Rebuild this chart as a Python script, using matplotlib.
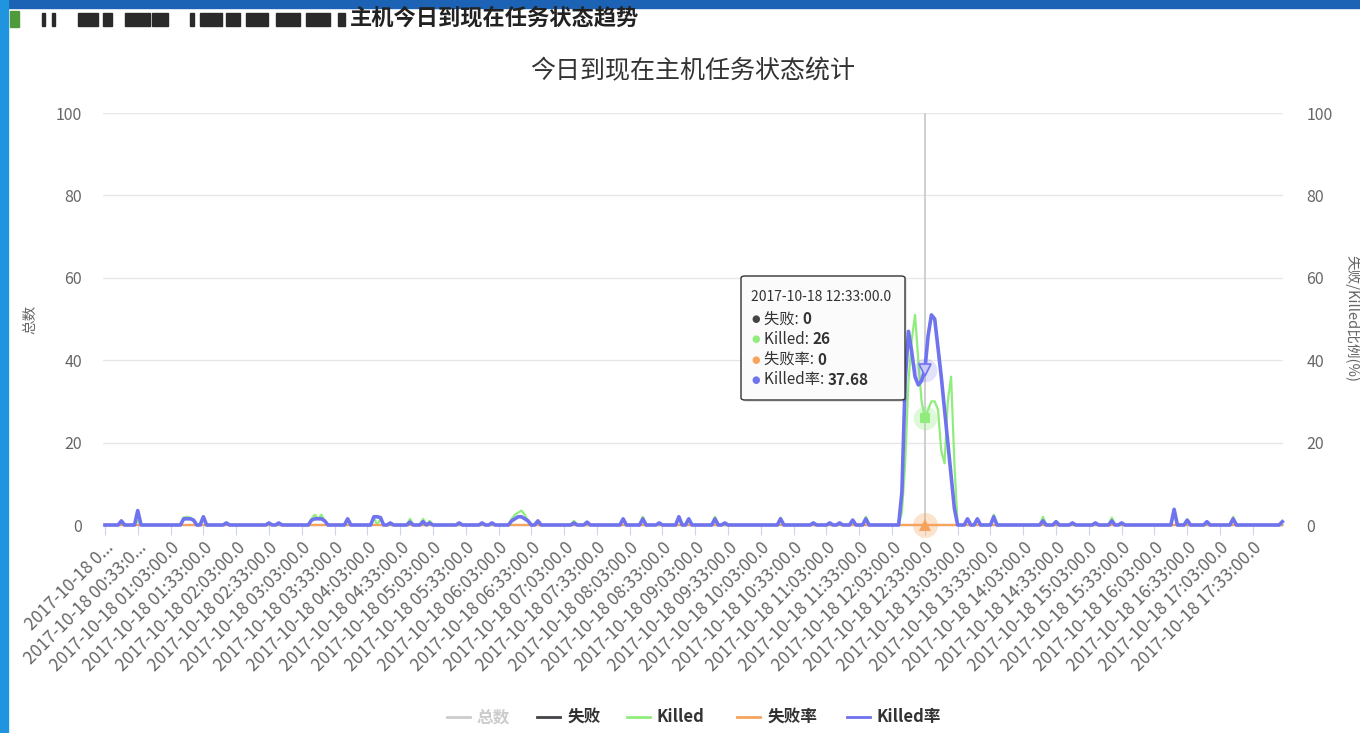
import numpy as np
import pandas as pd
import matplotlib
matplotlib.use('Agg')
import matplotlib.pyplot as plt
from matplotlib.lines import Line2D
from matplotlib.patches import Rectangle, FancyBboxPatch

plt.rcParams['font.family'] = ['Noto Sans CJK SC', 'DejaVu Sans']

W, H = 1360, 733

# ---------------- data ----------------
n_points = 360                      # one sample every 3 minutes
start_time = '2017-10-18 00:03:00'
categories = [t.strftime('%Y-%m-%d %H:%M:%S') + '.0'
              for t in pd.date_range(start_time, periods=n_points, freq='3min')]

# Killed (count, left axis) - non-zero samples
killed_idx = [5, 10, 24, 25, 26, 27, 30, 63, 64, 65, 66, 67, 74, 82, 84, 93, 97, 99,
              124, 125, 126, 127, 128, 129, 132, 143, 158, 164, 175, 178, 186, 206, 228, 232,
              243, 244, 245, 246, 247, 248, 249, 250, 251, 252, 253, 254, 255, 256, 257, 258, 259,
              263, 266, 271, 286, 307, 326, 330, 344]
killed_val = [0.5, 1.0, 1.8, 2.0, 1.8, 1.0, 1.5, 1.5, 2.5, 1.5, 2.5, 1.0, 1.5, 1.8, 1.5, 1.5, 1.5, 1.0,
              1.5, 2.5, 3.0, 3.5, 2.5, 1.0, 1.0, 1.0, 1.5, 2.0, 1.8, 1.2, 2.0, 1.8, 1.0, 2.0,
              3, 15, 35, 45, 51, 40, 30, 26, 28, 30, 30, 28, 18, 15, 30, 36, 15,
              1.5, 1.5, 2.5, 2.0, 1.8, 2.5, 1.0, 2.0]

# Killed率 (%, right axis) - non-zero samples
krate_idx = [5, 10, 24, 25, 26, 27, 30, 37, 50, 53, 63, 64, 65, 66, 67, 74, 82, 83, 84, 87,
             93, 97, 99, 108, 115, 118, 124, 125, 126, 127, 128, 129, 132, 143, 147, 158, 164,
             169, 175, 178, 186, 189, 206, 216, 221, 224, 228, 232,
             243, 244, 245, 246, 247, 248, 249, 250, 251, 252, 253, 254, 255, 256, 257, 258, 259,
             263, 266, 271, 286, 290, 295, 302, 307, 310, 326, 330, 336, 344, 359]
krate_val = [1.0, 3.5, 1.5, 1.5, 1.5, 1.2, 2.0, 0.5, 0.5, 0.5, 1.2, 1.5, 1.5, 1.5, 1.0, 1.5, 2.0, 2.0, 1.8, 0.5,
             0.7, 0.8, 0.5, 0.5, 0.5, 0.5, 1.0, 1.5, 2.0, 2.0, 1.5, 1.0, 1.0, 0.5, 0.7, 1.5, 1.5,
             0.5, 2.0, 1.5, 1.5, 0.5, 1.5, 0.5, 0.5, 0.5, 1.2, 1.5,
             8, 35, 47, 42, 36, 34, 35, 37.68, 46, 51, 50, 43, 36, 28, 20, 12, 4,
             1.5, 1.5, 2.0, 1.0, 0.8, 0.5, 0.5, 1.0, 0.5, 3.8, 1.2, 0.8, 1.5, 0.8]

fail_val = np.zeros(n_points)        # 失败 : all zero
fail_rate_val = np.zeros(n_points)   # 失败率 : all zero

killed = np.zeros(n_points)
killed[killed_idx] = killed_val
krate = np.zeros(n_points)
krate[krate_idx] = krate_val

tick_idx = list(range(0, n_points, 10))
tick_labels = ['2017-10-18 0...', '2017-10-18 00:33:0...',
               '2017-10-18 01:03:00.0', '2017-10-18 01:33:00.0', '2017-10-18 02:03:00.0',
               '2017-10-18 02:33:00.0', '2017-10-18 03:03:00.0', '2017-10-18 03:33:00.0',
               '2017-10-18 04:03:00.0', '2017-10-18 04:33:00.0', '2017-10-18 05:03:00.0',
               '2017-10-18 05:33:00.0', '2017-10-18 06:03:00.0', '2017-10-18 06:33:00.0',
               '2017-10-18 07:03:00.0', '2017-10-18 07:33:00.0', '2017-10-18 08:03:00.0',
               '2017-10-18 08:33:00.0', '2017-10-18 09:03:00.0', '2017-10-18 09:33:00.0',
               '2017-10-18 10:03:00.0', '2017-10-18 10:33:00.0', '2017-10-18 11:03:00.0',
               '2017-10-18 11:33:00.0', '2017-10-18 12:03:00.0', '2017-10-18 12:33:00.0',
               '2017-10-18 13:03:00.0', '2017-10-18 13:33:00.0', '2017-10-18 14:03:00.0',
               '2017-10-18 14:33:00.0', '2017-10-18 15:03:00.0', '2017-10-18 15:33:00.0',
               '2017-10-18 16:03:00.0', '2017-10-18 16:33:00.0', '2017-10-18 17:03:00.0',
               '2017-10-18 17:33:00.0']

series_names = ['总数', '失败', 'Killed', '失败率', 'Killed率']
series_colors = ['#7cb5ec', '#434348', '#90ed7d', '#f7a35c', '#6f73ee']
hidden_color = '#cccccc'
hover_idx = 250

page_title = '主机今日到现在任务状态趋势'
chart_title = '今日到现在主机任务状态统计'
left_title = '总数'
right_title = '失败/Killed比例(%)'

# ---------------- figure ----------------
def fx(px):
    return px / W

def fy(py):
    return 1 - py / H

fig = plt.figure(figsize=(W / 100, H / 100), dpi=100)
fig.patch.set_facecolor('white')

# window frame strips
fig.patches.append(Rectangle((0, fy(8)), 1, 8 / H, transform=fig.transFigure,
                             color='#1c62b5', zorder=0))
fig.patches.append(Rectangle((0, 0), 8 / W, 1, transform=fig.transFigure,
                             color='#2194e0', zorder=0))

# header (redacted host name shown as dark blocks)
fig.patches.append(Rectangle((fx(10), fy(27)), 9 / W, 16 / H, transform=fig.transFigure,
                             color='#4f9a3a', zorder=1))
for x0, x1 in [(42, 45), (52, 55), (78, 98), (103, 112), (125, 150), (152, 168),
               (190, 194), (200, 222), (226, 240), (246, 268), (276, 300), (306, 330), (338, 345)]:
    fig.patches.append(Rectangle((fx(x0), fy(26)), (x1 - x0) / W, 13 / H,
                                 transform=fig.transFigure, color='#2a2a2a', zorder=1))
fig.text(fx(350), fy(18), page_title, fontsize=16, fontweight='bold', color='#222222',
         ha='left', va='center')

fig.text(fx(693), fy(71), chart_title, fontsize=18, color='#333333', ha='center', va='center')

ax = fig.add_axes([fx(103), fy(525), 1180 / W, 412 / H])
ax2 = ax.twinx()
x = np.arange(n_points)
ax.set_xlim(-0.6, 359.2)
ax.set_ylim(0, 100)
ax2.set_ylim(0, 100)

for a in (ax, ax2):
    for s in a.spines.values():
        s.set_visible(False)
ax.spines['bottom'].set_visible(True)
ax.spines['bottom'].set_color('#ccd6eb')

ax.set_yticks(range(0, 101, 20))
ax2.set_yticks(range(0, 101, 20))
ax.tick_params(axis='y', length=0, pad=15, labelsize=11.5, labelcolor='#666666')
ax2.tick_params(axis='y', length=0, pad=17, labelsize=11.5, labelcolor='#666666')
ax.grid(axis='y', color='#e6e6e6', lw=0.9)
ax.set_axisbelow(True)

ax.set_xticks(tick_idx)
ax.set_xticklabels(tick_labels, rotation=45, ha='right', va='top', rotation_mode='anchor')
ax.tick_params(axis='x', length=7, width=0.8, color='#ccd6eb', pad=3, labelsize=12.5,
               labelcolor='#666666')

fig.text(fx(30), fy(319), left_title, rotation=90, fontsize=10.5, color='#666666',
         ha='center', va='center')
fig.text(fx(1352), fy(319), right_title, rotation=270, fontsize=10.5, color='#666666',
         ha='center', va='center')

# crosshair
ax.axvline(hover_idx, color='#cccccc', lw=1.3, zorder=1)

# series
ax.plot(x, fail_val, color=series_colors[1], lw=1.5, clip_on=False, zorder=2)
ax.plot(x, killed, color=series_colors[2], lw=1.6, clip_on=False, zorder=3)
ax2.plot(x, fail_rate_val, color=series_colors[3], lw=1.6, clip_on=False, zorder=2)
ax2.plot(x, krate, color=series_colors[4], lw=2.6, clip_on=False, zorder=3)

# hover markers with halos
ax.plot(hover_idx, killed[hover_idx], marker='o', ms=17, color=series_colors[2], alpha=0.3,
        mew=0, clip_on=False, zorder=4)
ax.plot(hover_idx, killed[hover_idx], marker='s', ms=7, color=series_colors[2], mew=0,
        clip_on=False, zorder=5)
ax2.plot(hover_idx, fail_rate_val[hover_idx], marker='o', ms=18, color=series_colors[3],
         alpha=0.3, mew=0, clip_on=False, zorder=4)
ax2.plot(hover_idx, fail_rate_val[hover_idx], marker='^', ms=9, color=series_colors[3],
         mew=0, clip_on=False, zorder=5)
ax2.plot(hover_idx, krate[hover_idx], marker='o', ms=17, color=series_colors[4], alpha=0.2,
         mew=0, clip_on=False, zorder=4)
ax2.plot(hover_idx, krate[hover_idx], marker='v', ms=9, color='#c9caf7', mec=series_colors[4],
         mew=1.2, clip_on=False, zorder=5)

# tooltip
bx0, by0, bx1, by1 = 741, 276, 905, 400
fig.patches.append(FancyBboxPatch((fx(bx0 + 2), fy(by1 + 2)), (bx1 - bx0) / W, (by1 - by0) / H,
                                  boxstyle='round,pad=0,rounding_size=0.003',
                                  transform=fig.transFigure, facecolor='black', alpha=0.10,
                                  edgecolor='none', zorder=8))
fig.patches.append(FancyBboxPatch((fx(bx0), fy(by1)), (bx1 - bx0) / W, (by1 - by0) / H,
                                  boxstyle='round,pad=0,rounding_size=0.003',
                                  transform=fig.transFigure, facecolor='#fbfbfb',
                                  edgecolor='#333333', lw=1.0, zorder=9))
fig.text(fx(751), fy(297), categories[hover_idx], fontsize=10, color='#333333',
         ha='left', va='center', zorder=10)
tip_vals = [fail_val[hover_idx], killed[hover_idx], fail_rate_val[hover_idx], krate[hover_idx]]
renderer = fig.canvas.get_renderer()
for i, (name, col, v) in enumerate(zip(series_names[1:], series_colors[1:], tip_vals)):
    yy = fy(319 + i * 20.3)
    fig.text(fx(751), yy, '●', fontsize=7, color=col, ha='left', va='center', zorder=10,
             family='DejaVu Sans')
    t = fig.text(fx(764), yy, name + ': ', fontsize=11, color='#333333', ha='left',
                 va='center', zorder=10)
    bb = t.get_window_extent(renderer)
    fig.text(bb.x1 / W, yy, f'{v:g}', fontsize=11, fontweight='bold', color='#333333',
             ha='left', va='center', zorder=10)

# legend
leg_x = [447, 537, 627, 737, 847]
leg_y = 717
for i, (name, col, lx) in enumerate(zip(series_names, series_colors, leg_x)):
    c = hidden_color if i == 0 else col
    tc = hidden_color if i == 0 else '#333333'
    fig.lines.append(Line2D([fx(lx), fx(lx + 23)], [fy(leg_y), fy(leg_y)],
                            transform=fig.transFigure, color=c, lw=2))
    fig.text(fx(lx + 30), fy(leg_y), name, fontsize=12, fontweight='bold', color=tc,
             ha='left', va='center')

fig.savefig('out.png', dpi=100)
